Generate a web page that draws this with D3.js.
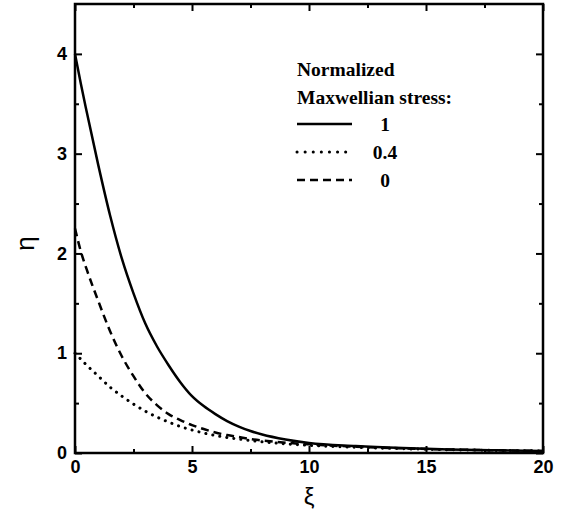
<!DOCTYPE html>
<html>
<head>
<meta charset="utf-8">
<script src="https://cdn.jsdelivr.net/npm/d3@7"></script>
<style>
  body { margin: 0; background: #fff; }
  .tick text { font-family: "Liberation Sans", Arial, sans-serif; font-weight: bold; font-size: 18px; fill: #000; }
</style>
</head>
<body>
<div id="chart"></div>
<script>
var svgWidth = 571;
var svgHeight = 529;

var margin = { top: 4, right: 28, bottom: 76, left: 75 };

var width = svgWidth - margin.left - margin.right;
var height = svgHeight - margin.top - margin.bottom;

// Chart data
var xi = [0, 0.25, 0.5, 1, 1.5, 2, 2.5, 3, 3.5, 4, 4.5, 5, 5.5, 6, 6.5, 7, 7.5, 8, 9, 10, 12, 14, 16, 18, 20];
var etaStress1 = [4.0, 3.7, 3.42, 2.88, 2.38, 1.95, 1.6, 1.3, 1.07, 0.88, 0.71, 0.57, 0.47, 0.39, 0.32, 0.265, 0.22, 0.185, 0.135, 0.1, 0.07, 0.05, 0.036, 0.027, 0.02];
var etaStress04 = [1.0, 0.94, 0.88, 0.77, 0.66, 0.57, 0.49, 0.42, 0.36, 0.31, 0.265, 0.23, 0.2, 0.175, 0.155, 0.14, 0.125, 0.112, 0.092, 0.077, 0.057, 0.043, 0.033, 0.026, 0.02];
var etaStress0 = [2.25, 2.02, 1.84, 1.52, 1.22, 0.97, 0.77, 0.6, 0.48, 0.39, 0.33, 0.28, 0.24, 0.205, 0.18, 0.16, 0.14, 0.125, 0.103, 0.087, 0.063, 0.047, 0.035, 0.027, 0.02];

var xMajor = [0, 5, 10, 15, 20];
var xMinor = [2.5, 7.5, 12.5, 17.5];
var yMajor = [0, 1, 2, 3, 4];
var yMinor = [0.5, 1.5, 2.5, 3.5];

var legendTitle = ["Normalized", "Maxwellian stress:"];
var legendLabels = ["1", "0.4", "0"];

var svg = d3.select("#chart")
  .append("svg")
  .attr("width", svgWidth)
  .attr("height", svgHeight);

var chartGroup = svg.append("g")
  .attr("transform", `translate(${margin.left}, ${margin.top})`);

var xScale = d3.scaleLinear().domain([0, 20]).range([0, width]);
var yScale = d3.scaleLinear().domain([0, 4.5]).range([height, 0]);

// axes with inward ticks on all four sides
function styleAxis(g) {
  g.select(".domain").remove();
  g.selectAll(".tick line").attr("stroke", "#000").attr("stroke-width", 2);
}

chartGroup.append("g")
  .attr("transform", `translate(0, ${height})`)
  .call(d3.axisBottom(xScale).tickValues(xMajor).tickSize(-7).tickPadding(7).tickFormat(d3.format("d")))
  .call(styleAxis);
chartGroup.append("g")
  .attr("transform", `translate(0, ${height})`)
  .call(d3.axisBottom(xScale).tickValues(xMinor).tickSize(-4).tickFormat(""))
  .call(styleAxis);
chartGroup.append("g")
  .call(d3.axisTop(xScale).tickValues(xMajor).tickSize(-7).tickFormat(""))
  .call(styleAxis);
chartGroup.append("g")
  .call(d3.axisTop(xScale).tickValues(xMinor).tickSize(-4).tickFormat(""))
  .call(styleAxis);

chartGroup.append("g")
  .call(d3.axisLeft(yScale).tickValues(yMajor).tickSize(-7).tickPadding(8).tickFormat(d3.format("d")))
  .call(styleAxis);
chartGroup.append("g")
  .call(d3.axisLeft(yScale).tickValues(yMinor).tickSize(-4).tickFormat(""))
  .call(styleAxis);
chartGroup.append("g")
  .attr("transform", `translate(${width}, 0)`)
  .call(d3.axisRight(yScale).tickValues(yMajor).tickSize(-7).tickFormat(""))
  .call(styleAxis);
chartGroup.append("g")
  .attr("transform", `translate(${width}, 0)`)
  .call(d3.axisRight(yScale).tickValues(yMinor).tickSize(-4).tickFormat(""))
  .call(styleAxis);

// curves
var series = [
  { values: etaStress1, dash: null, cap: "butt" },
  { values: etaStress04, dash: "0.1 7", cap: "round" },
  { values: etaStress0, dash: "8 5", cap: "butt" }
];

var line = d3.line()
  .x((d, i) => xScale(xi[i]))
  .y(d => yScale(d))
  .curve(d3.curveMonotoneX);

chartGroup.selectAll(".curve")
  .data(series)
  .enter()
  .append("path")
  .attr("class", "curve")
  .attr("d", d => line(d.values))
  .attr("fill", "none")
  .attr("stroke", "#000")
  .attr("stroke-width", d => d.dash === "0.1 7" ? 3 : 2.5)
  .attr("stroke-linecap", d => d.cap)
  .attr("stroke-dasharray", d => d.dash);

// frame
chartGroup.append("rect")
  .attr("width", width)
  .attr("height", height)
  .attr("fill", "none")
  .attr("stroke", "#000")
  .attr("stroke-width", 2.5);

// legend
var legend = chartGroup.append("g")
  .attr("transform", "translate(222, 0)");

legend.selectAll(".title")
  .data(legendTitle)
  .enter()
  .append("text")
  .attr("x", 0)
  .attr("y", (d, i) => 72 + i * 28)
  .attr("font-family", "'Liberation Serif', 'Times New Roman', serif")
  .attr("font-weight", "bold")
  .attr("font-size", "19.5px")
  .text(d => d);

var rows = legend.selectAll(".row")
  .data(series)
  .enter()
  .append("g")
  .attr("transform", (d, i) => `translate(0, ${120 + i * 28})`);

rows.append("line")
  .attr("x1", 0)
  .attr("x2", 55)
  .attr("stroke", "#000")
  .attr("stroke-width", d => d.dash === "0.1 7" ? 3 : 2.5)
  .attr("stroke-linecap", d => d.cap)
  .attr("stroke-dasharray", d => d.dash === "0.1 7" ? "0.1 8" : d.dash);

rows.append("text")
  .attr("x", 88)
  .attr("y", 7)
  .attr("text-anchor", "middle")
  .attr("font-family", "'Liberation Serif', 'Times New Roman', serif")
  .attr("font-weight", "bold")
  .attr("font-size", "19.5px")
  .text((d, i) => legendLabels[i]);

// axis titles
svg.append("text")
  .attr("transform", `translate(34, ${margin.top + yScale(2.1)}) rotate(-90)`)
  .attr("text-anchor", "middle")
  .attr("font-family", "'Liberation Sans', Arial, sans-serif")
  .attr("font-size", "26px")
  .text("η");

svg.append("text")
  .attr("x", margin.left + width / 2)
  .attr("y", 505)
  .attr("text-anchor", "middle")
  .attr("font-family", "'Liberation Sans', Arial, sans-serif")
  .attr("font-size", "24px")
  .text("ξ");
</script>
</body>
</html>
